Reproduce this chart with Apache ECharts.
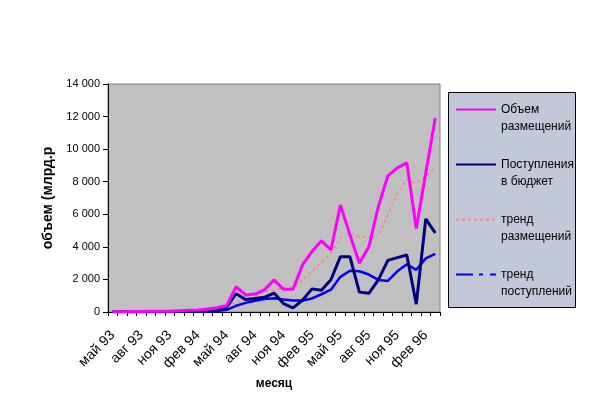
<!DOCTYPE html>
<html>
<head>
<meta charset="utf-8">
<script src="https://cdn.jsdelivr.net/npm/echarts@6/dist/echarts.min.js"></script>
<style>
html, body { margin: 0; background: #fff; }
#chart { width: 616px; height: 398px; }
</style>
</head>
<body>
<div id="chart"></div>
<script>
// месяцы с мая 1993 по март 1996
var months = [
    'май 93', 'июн 93', 'июл 93', 'авг 93', 'сен 93', 'окт 93', 'ноя 93', 'дек 93',
    'янв 94', 'фев 94', 'мар 94', 'апр 94', 'май 94', 'июн 94', 'июл 94', 'авг 94',
    'сен 94', 'окт 94', 'ноя 94', 'дек 94', 'янв 95', 'фев 95', 'мар 95', 'апр 95',
    'май 95', 'июн 95', 'июл 95', 'авг 95', 'сен 95', 'окт 95', 'ноя 95', 'дек 95',
    'янв 96', 'фев 96', 'мар 96'
];
var razm = [20, 20, 30, 30, 40, 40, 50, 80, 100, 120, 180, 260, 380, 1550, 1050, 1100,
    1360, 1970, 1390, 1390, 2890, 3710, 4370, 3810, 6570, 4750, 2990, 4000, 6470, 8360,
    8850, 9160, 5130, 8550, 11900];
var postup = [10, 10, 10, 20, 20, 20, 30, 30, 40, 40, 50, 100, 290, 1120, 770, 830,
    900, 1160, 520, 250, 720, 1420, 1340, 1980, 3400, 3400, 1220, 1150, 1970, 3170,
    3340, 3500, 480, 5720, 4850];
var trendRazm = [20, 20, 30, 30, 40, 40, 50, 70, 90, 110, 150, 220, 350, 600, 770, 960,
    1240, 1330, 1470, 1530, 1980, 2500, 3050, 3620, 4570, 4780, 4620, 4600, 4700, 5960,
    7310, 8100, 7920, 8290, 8900];
var trendPost = [10, 10, 10, 10, 20, 20, 20, 30, 30, 40, 40, 60, 130, 380, 560, 690,
    800, 850, 770, 700, 710, 830, 1090, 1370, 2160, 2530, 2500, 2300, 1970, 1910,
    2500, 2930, 2590, 3290, 3570];
var names = ['Объем размещений', 'Поступления в бюджет', 'тренд размещений', 'тренд поступлений'];
// первая пустая строка нужна, чтобы первая строка подписи стояла напротив линии
var legendText = {
    'Объем размещений': '\nОбъем\nразмещений',
    'Поступления в бюджет': '\nПоступления\nв бюджет',
    'тренд размещений': '\nтренд\nразмещений',
    'тренд поступлений': '\nтренд\nпоступлений'
};

var font = 'Arial, "Liberation Sans", sans-serif';
var myChart = echarts.init(document.getElementById('chart'));
myChart.setOption({
    animation: false,
    textStyle: { fontFamily: font, color: '#000' },
    grid: {
        left: 108, right: 176, top: 84, bottom: 86,
        show: true, backgroundColor: '#c0c0c0', borderColor: '#808080', borderWidth: 1
    },
    graphic: [{
        type: 'rect',
        shape: { x: 448.5, y: 92.5, width: 127, height: 215 },
        style: { fill: '#c3c8d8', stroke: '#000', lineWidth: 1 },
        z: 0
    }],
    legend: {
        orient: 'vertical',
        left: 455, top: 84,
        padding: 0,
        itemGap: 4,
        itemWidth: 40, itemHeight: 14,
        itemStyle: { opacity: 0 },
        formatter: function (n) { return legendText[n]; },
        textStyle: { fontFamily: font, fontSize: 12, color: '#000', lineHeight: 17 },
        data: [
            { name: names[0] },
            { name: names[1] },
            { name: names[2] },
            { name: names[3], lineStyle: { type: [17, 6, 4, 7] } }
        ],
        z: 5
    },
    xAxis: {
        type: 'category',
        data: months,
        boundaryGap: true,
        name: 'месяц',
        nameLocation: 'middle',
        nameGap: 66,
        nameTextStyle: { fontFamily: font, fontSize: 12, fontWeight: 'bold', color: '#000' },
        axisLine: { lineStyle: { color: '#000', width: 1 } },
        axisTick: { show: true, interval: 0, length: 4, lineStyle: { color: '#000' } },
        axisLabel: { interval: 2, rotate: 45, margin: 21, fontSize: 14, fontFamily: font, color: '#000' },
        splitLine: { show: false }
    },
    yAxis: {
        type: 'value',
        min: 0, max: 14000, interval: 2000,
        name: 'объем (млрд.р',
        nameLocation: 'middle',
        nameGap: 46,
        nameRotate: 90,
        nameTextStyle: { fontFamily: font, fontSize: 14, fontWeight: 'bold', color: '#000' },
        axisLine: { show: true, lineStyle: { color: '#000', width: 1 } },
        axisTick: { show: true, length: 5, lineStyle: { color: '#000' } },
        axisLabel: {
            fontSize: 11, fontFamily: font, color: '#000', margin: 8,
            formatter: function (v) { return String(v).replace(/\B(?=(\d{3})+(?!\d))/g, ' '); }
        },
        splitLine: { show: false }
    },
    series: [
        {
            name: names[0], type: 'line', data: razm, symbol: 'none',
            lineStyle: { color: '#ff00ff', width: 3 }, itemStyle: { color: '#ff00ff' }, z: 4
        },
        {
            name: names[1], type: 'line', data: postup, symbol: 'none',
            lineStyle: { color: '#000080', width: 3 }, itemStyle: { color: '#000080' }, z: 3
        },
        {
            name: names[2], type: 'line', data: trendRazm, symbol: 'none',
            lineStyle: { color: '#ff8080', width: 1.5, type: [3, 3] }, itemStyle: { color: '#ff8080' }, z: 2
        },
        {
            name: names[3], type: 'line', data: trendPost, symbol: 'none',
            lineStyle: { color: '#0000ff', width: 2.5 }, itemStyle: { color: '#0000ff' }, z: 2
        }
    ]
});
</script>
</body>
</html>
